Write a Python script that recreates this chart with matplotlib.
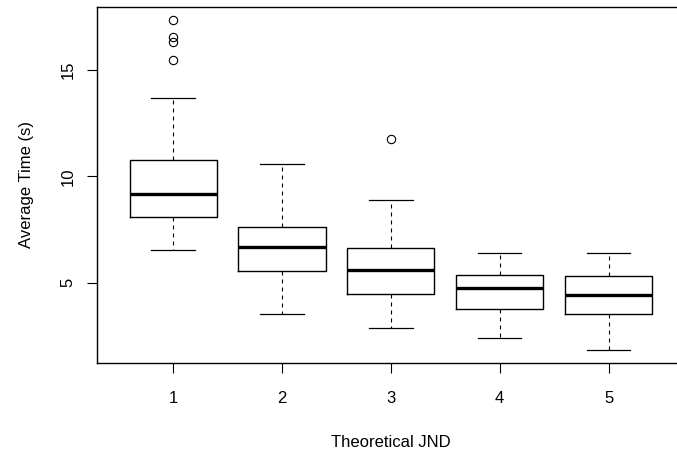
import matplotlib
matplotlib.use("Agg")
import matplotlib.pyplot as plt

categories = ["1", "2", "3", "4", "5"]
whisker_low = [6.53, 3.53, 2.84, 2.40, 1.85]
q1 = [8.09, 5.53, 4.47, 3.74, 3.51]
median = [9.17, 6.66, 5.59, 4.75, 4.41]
q3 = [10.78, 7.63, 6.64, 5.37, 5.29]
whisker_high = [13.67, 10.56, 8.89, 6.41, 6.41]
outliers = [[17.35, 16.55, 16.31, 15.46], [], [11.77], [], []]
y_ticks = [5, 10, 15]

plt.rcParams['font.family'] = ['Liberation Sans', 'DejaVu Sans']

fig = plt.figure(figsize=(6.77, 4.53), dpi=100)
W, H = 677, 453
left, right, top, bottom = 97, 684.7, 7, 362.7
ax = fig.add_axes([left / W, (H - bottom) / H, (right - left) / W, (bottom - top) / H])

stats = []
for i, c in enumerate(categories):
    stats.append(dict(label=c, whislo=whisker_low[i], q1=q1[i], med=median[i],
                      q3=q3[i], whishi=whisker_high[i], fliers=outliers[i]))

positions = list(range(1, len(categories) + 1))
ax.bxp(stats, positions=positions, widths=0.8, showfliers=True,
       boxprops=dict(color='black', linewidth=1.0),
       medianprops=dict(color='black', linewidth=2.4, solid_capstyle='butt'),
       whiskerprops=dict(color='black', linewidth=0.8, linestyle=(0, (3.6, 3.6))),
       capprops=dict(color='black', linewidth=0.9),
       capwidths=0.4,
       flierprops=dict(marker='o', markersize=6, markerfacecolor='none',
                       markeredgecolor='black', markeredgewidth=0.8))

ax.set_xlim(0.3, 5.7)
ax.set_ylim(1.23, 17.97)
ax.set_xticks(positions)
ax.set_xticklabels(categories)
ax.set_yticks(y_ticks)
ax.set_yticklabels([str(t) for t in y_ticks], rotation=90, va='center')
ax.tick_params(axis='both', direction='out', length=7.5, width=0.8, labelsize=12,
               colors='black')
ax.tick_params(axis='x', pad=13)
ax.tick_params(axis='y', pad=8)
for s in ax.spines.values():
    s.set_linewidth(1.0)
    s.set_color('black')

ax.set_xlabel("Theoretical JND", fontsize=12, labelpad=21)
ax.set_ylabel("Average Time (s)", fontsize=12, labelpad=19)

fig.savefig("out.png", dpi=100)
